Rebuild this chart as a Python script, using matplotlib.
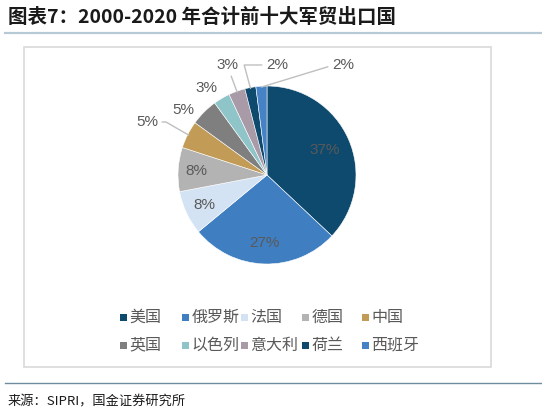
import numpy as np
import matplotlib
matplotlib.use("Agg")
from matplotlib import pyplot as plt
from matplotlib.patches import Rectangle
from matplotlib.lines import Line2D

plt.rcParams['font.family'] = ['Noto Sans CJK SC', 'DejaVu Sans']

# data (share of 2000-2020 arms exports, %)
countries = ['美国', '俄罗斯', '法国', '德国', '中国',
             '英国', '以色列', '意大利', '荷兰', '西班牙']
shares = [37, 27, 8, 8, 5, 5, 3, 3, 2, 2]
colors = ['#0e4a6d', '#3f7fc1', '#d4e3f3', '#b3b3b3', '#c29b57',
          '#7f7f7f', '#8fc4c9', '#a99aa8', '#0e4a6d', '#4583c6']

title = '图表7：2000-2020 年合计前十大军贸出口国'
source = '来源：SIPRI，国金证券研究所'

W, H = 542, 415
fig = plt.figure(figsize=(W / 100, H / 100), dpi=100)

# pie centre / radius in pixels
cx, cy, R = 267, 175, 89
ax = fig.add_axes([0, 0, 1, 1])

wedges, _ = ax.pie(shares, colors=colors, startangle=90, counterclock=False,
                   radius=1, wedgeprops=dict(edgecolor='white', linewidth=0.4))
ax.set_xlim(-cx / R, (W - cx) / R)
ax.set_ylim(-(H - cy) / R, cy / R)
ax.set_aspect('equal')
ax.axis('off')

lbl_font = dict(family=['Liberation Sans', 'DejaVu Sans'], fontsize=11)
inside_r = [0.71, 0.76, 0.78, 0.79]
# outside label spots (pixels) for the small slices
outside_px = [(147, 122), (183, 110), (206, 88), (227, 65), (277, 65), (343, 65)]
# leader line style per outside label (None = no leader)
leader = ['angle,angleA=0,angleB=150', None, None, 'arc3',
          'angle,angleA=0,angleB=105', 'angle,angleA=0,angleB=17']

for i, (w, v) in enumerate(zip(wedges, shares)):
    mid = np.deg2rad((w.theta1 + w.theta2) / 2)
    txt = f'{v}%'
    if i < 4:
        r = inside_r[i]
        ax.text(r * np.cos(mid), r * np.sin(mid), txt, ha='center', va='center',
                color='#595959', **lbl_font)
    else:
        px, py = outside_px[i - 4]
        pos = ((px - cx) / R, (cy - py) / R)
        edge = (0.99 * np.cos(mid), 0.99 * np.sin(mid))
        conn = leader[i - 4]
        if conn:
            ax.annotate(txt, xy=edge, xytext=pos, ha='center', va='center',
                        color='#595959', **lbl_font,
                        arrowprops=dict(arrowstyle='-', color='#bfbfbf', lw=1,
                                        shrinkA=1, shrinkB=0,
                                        connectionstyle=conn))
        else:
            ax.text(pos[0], pos[1], txt, ha='center', va='center',
                    color='#595959', **lbl_font)

# frame pieces
fig.text(8 / W, 1 - 17 / H, title, fontsize=14, fontweight='bold',
         color='#1a1a1a', ha='left', va='center')
fig.add_artist(Line2D([5 / W, 1], [1 - 33 / H] * 2, color='#b7c9d5', lw=1.6,
                      transform=fig.transFigure))
fig.add_artist(Rectangle((24 / W, 1 - 367 / H), (491 - 24) / W, (367 - 47) / H,
                         transform=fig.transFigure, fill=False,
                         edgecolor='#d9d9d9', lw=1.2))
fig.add_artist(Line2D([5 / W, 1], [1 - 383 / H] * 2, color='#6d8c9e', lw=1,
                      transform=fig.transFigure))
fig.text(8 / W, 1 - 402 / H, source, fontsize=9.5, color='#1a1a1a',
         ha='left', va='center')

# legend, two rows of five
col_x = [120, 182, 241, 302, 362]
row_y = [317, 345]
for i, (name, c) in enumerate(zip(countries, colors)):
    x = col_x[i % 5]
    y = row_y[i // 5]
    fig.add_artist(Rectangle((x / W, 1 - (y + 3.5) / H), 7 / W, 7 / H,
                             transform=fig.transFigure, color=c, lw=0))
    fig.text((x + 9.5) / W, 1 - y / H, name, fontsize=11.5, color='#595959',
             ha='left', va='center')

fig.savefig('out.png', dpi=100)
